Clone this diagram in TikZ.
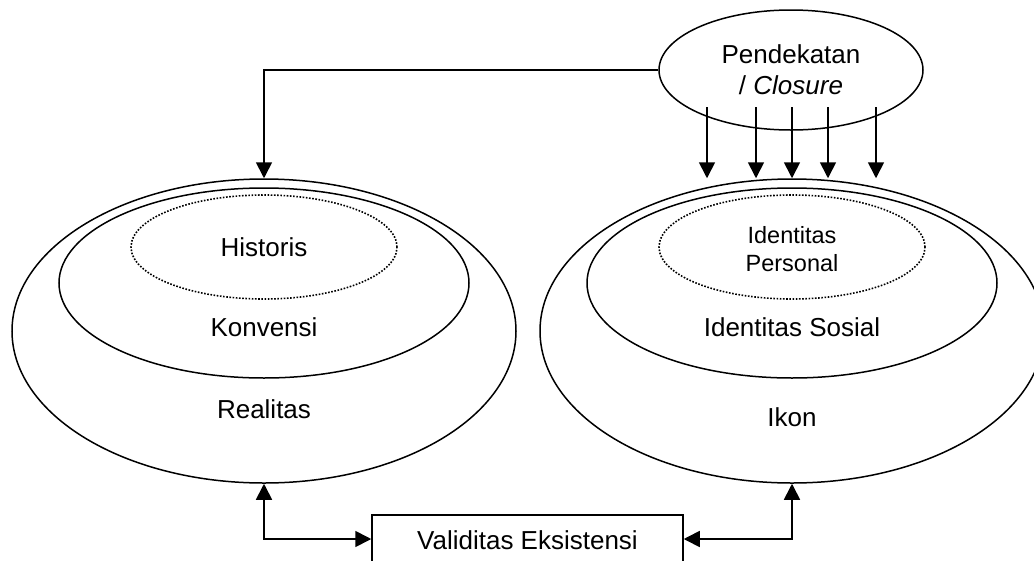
\documentclass[tikz,border=0pt]{standalone}
\usepackage{fontspec}
\setmainfont{Liberation Sans}
\usetikzlibrary{shapes.geometric,arrows.meta}
\begin{document}
\begin{tikzpicture}[x=1pt,y=-1pt,
  every node/.style={font=\fontsize{26}{31}\selectfont},
  ell/.style={ellipse,draw,line width=1.5pt,inner sep=0pt},
  dotell/.style={ellipse,draw,line width=1.6pt,dash pattern=on 1.6pt off 1.6pt,inner sep=0pt},
  lbl/.style={inner sep=0pt},
  boxnode/.style={draw,line width=1.5pt,inner sep=0pt,minimum width=311pt,minimum height=50pt},
  arr/.style={line width=1.7pt,-{Triangle[length=16pt,width=16pt]}},
  dbl/.style={line width=1.7pt,{Triangle[length=16pt,width=16pt]}-{Triangle[length=16pt,width=16pt]}}]
\useasboundingbox (0,0) rectangle (1034,560);

% left group
\node[ell,minimum width=504pt,minimum height=304pt] (outerL) at (264,331) {};
\node[ell,minimum width=410pt,minimum height=190pt] (innerL) at (264,283) {};
\node[dotell,minimum width=266pt,minimum height=104pt] (dotL) at (264,247) {};
\node[lbl] (historis) at (264,247) {Historis};
\node[lbl] (konvensi) at (264,327) {Konvensi};
\node[lbl] (realitas) at (264,409) {Realitas};

% right group
\node[ell,minimum width=504pt,minimum height=304pt] (outerR) at (792,331) {};
\node[ell,minimum width=410pt,minimum height=190pt] (innerR) at (792,283) {};
\node[dotell,minimum width=266pt,minimum height=104pt] (dotR) at (792,247) {};
\node[lbl,align=center,font=\fontsize{23.5}{28}\selectfont] (personal) at (792,249) {Identitas\\Personal};
\node[lbl] (sosial) at (792,327) {Identitas Sosial};
\node[lbl] (ikon) at (792,417) {Ikon};

% top ellipse
\node[ell,minimum width=264pt,minimum height=120pt] (pend) at (791,70) {};
\node[lbl,align=center] (pendt) at (791,70) {Pendekatan\\/ \textit{Closure}};

% bottom box
\node[boxnode] (valid) at (527.5,540) {};
\node[lbl] (validt) at (527.5,540) {Validitas Eksistensi};

% connectors
\draw[arr] (pend.west) -| (outerL.north);
\foreach \i/\x in {1/707,2/756,3/792,4/828,5/876}{
  \coordinate (s\i) at (\x,107);
  \draw[arr] (s\i) -- (s\i |- outerR.north);
}
\draw[dbl] (outerL.south) |- (valid.west |- 0,539);
\draw[dbl] (outerR.south) |- (valid.east |- 0,539);
\end{tikzpicture}
\end{document}
